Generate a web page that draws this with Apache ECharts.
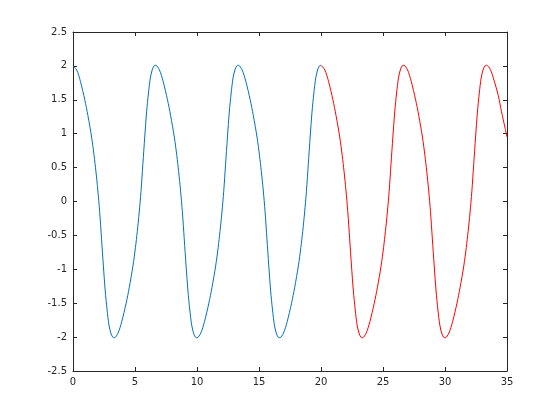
<!DOCTYPE html>
<html>
<head>
<meta charset="utf-8">
<script src="https://cdn.jsdelivr.net/npm/echarts@6/dist/echarts.min.js"></script>
<style>html,body{margin:0;padding:0;background:#fff}#c{width:560px;height:420px}</style>
</head>
<body>
<div id="c"></div>
<script>
// Time values (x) and signal values (y)
const blueT = [
  0,0.3,0.6,0.95,1.2,1.5,1.7,1.85,2.0,2.15,2.3,2.45,2.6,2.75,2.9,3.05,3.2,
  3.335,3.635,3.935,4.285,4.535,4.835,5.035,5.185,5.335,5.485,5.635,5.785,5.935,6.085,6.235,6.385,6.535,
  6.67,6.97,7.27,7.62,7.87,8.17,8.37,8.52,8.67,8.82,8.97,9.12,9.27,9.42,9.57,9.72,9.87,
  10.005,10.305,10.605,10.955,11.205,11.505,11.705,11.855,12.005,12.155,12.305,12.455,12.605,12.755,12.905,13.055,13.205,
  13.34,13.64,13.94,14.29,14.54,14.84,15.04,15.19,15.34,15.49,15.64,15.79,15.94,16.09,16.24,16.39,16.54,
  16.675,16.975,17.275,17.625,17.875,18.175,18.375,18.525,18.675,18.825,18.975,19.125,19.275,19.425,19.575,19.725,19.875,
  20.0
];
const blueY = [
  2.0,1.94,1.77,1.5,1.27,0.95,0.68,0.44,0.17,-0.15,-0.55,-0.95,-1.32,-1.60,-1.82,-1.94,-2.0,
  -2.01,-1.94,-1.77,-1.5,-1.27,-0.95,-0.68,-0.44,-0.17,0.15,0.55,0.95,1.32,1.60,1.82,1.94,2.0,
  2.01,1.94,1.77,1.5,1.27,0.95,0.68,0.44,0.17,-0.15,-0.55,-0.95,-1.32,-1.60,-1.82,-1.94,-2.0,
  -2.01,-1.94,-1.77,-1.5,-1.27,-0.95,-0.68,-0.44,-0.17,0.15,0.55,0.95,1.32,1.60,1.82,1.94,2.0,
  2.01,1.94,1.77,1.5,1.27,0.95,0.68,0.44,0.17,-0.15,-0.55,-0.95,-1.32,-1.60,-1.82,-1.94,-2.0,
  -2.01,-1.94,-1.77,-1.5,-1.27,-0.95,-0.68,-0.44,-0.17,0.15,0.55,0.95,1.32,1.60,1.82,1.94,2.0,
  2.01
];
const redT = [
  20.0,20.31,20.61,20.96,21.21,21.51,21.71,21.86,22.01,22.16,22.31,22.46,22.61,22.76,22.91,23.06,23.21,
  23.345,23.645,23.945,24.295,24.545,24.845,25.045,25.195,25.345,25.495,25.645,25.795,25.945,26.095,26.245,26.395,26.545,
  26.68,26.98,27.28,27.63,27.88,28.18,28.38,28.53,28.68,28.83,28.98,29.13,29.28,29.43,29.58,29.73,29.88,
  30.015,30.315,30.615,30.965,31.215,31.515,31.715,31.865,32.015,32.165,32.315,32.465,32.615,32.765,32.915,33.065,33.215,
  33.35,33.65,33.95,34.3,34.55,34.85,35.0
];
const redY = [
  2.01,1.94,1.77,1.5,1.27,0.95,0.68,0.44,0.17,-0.15,-0.55,-0.95,-1.32,-1.60,-1.82,-1.94,-2.0,
  -2.01,-1.94,-1.77,-1.5,-1.27,-0.95,-0.68,-0.44,-0.17,0.15,0.55,0.95,1.32,1.60,1.82,1.94,2.0,
  2.01,1.94,1.77,1.5,1.27,0.95,0.68,0.44,0.17,-0.15,-0.55,-0.95,-1.32,-1.60,-1.82,-1.94,-2.0,
  -2.01,-1.94,-1.77,-1.5,-1.27,-0.95,-0.68,-0.44,-0.17,0.15,0.55,0.95,1.32,1.60,1.82,1.94,2.0,
  2.01,1.95,1.79,1.56,1.33,1.08,0.95
];
const xTicks = {min: 0, max: 35, interval: 5};
const yTicks = {min: -2.5, max: 2.5, interval: 0.5};

const zip = (a, b) => a.map((v, i) => [v, b[i]]);
const axisColor = '#262626';
const font = 'DejaVu Sans';
const chart = echarts.init(document.getElementById('c'), null, {renderer: 'canvas'});
const baseAxis = {
  type: 'value',
  axisLine: {show: true, onZero: false, lineStyle: {color: axisColor, width: 1}},
  axisTick: {show: true, inside: true, length: 4, lineStyle: {color: axisColor}},
  splitLine: {show: false}
};
chart.setOption({
  animation: false,
  backgroundColor: '#fff',
  grid: {left: 73, right: 53, top: 32, bottom: 49, containLabel: false},
  xAxis: [
    Object.assign({}, baseAxis, xTicks, {position: 'bottom',
      axisLabel: {color: axisColor, fontFamily: font, fontSize: 10, margin: 6}}),
    Object.assign({}, baseAxis, xTicks, {position: 'top', axisLabel: {show: false}})
  ],
  yAxis: [
    Object.assign({}, baseAxis, yTicks, {position: 'left',
      axisLabel: {color: axisColor, fontFamily: font, fontSize: 10, margin: 6}}),
    Object.assign({}, baseAxis, yTicks, {position: 'right', axisLabel: {show: false}})
  ],
  series: [
    {type: 'line', data: zip(blueT, blueY), showSymbol: false, smooth: 0.3,
     lineStyle: {color: '#0072BD', width: 1}, itemStyle: {color: '#0072BD'}},
    {type: 'line', data: zip(redT, redY), showSymbol: false, smooth: 0.3,
     lineStyle: {color: '#FF0000', width: 1}, itemStyle: {color: '#FF0000'}}
  ]
});
</script>
</body>
</html>
